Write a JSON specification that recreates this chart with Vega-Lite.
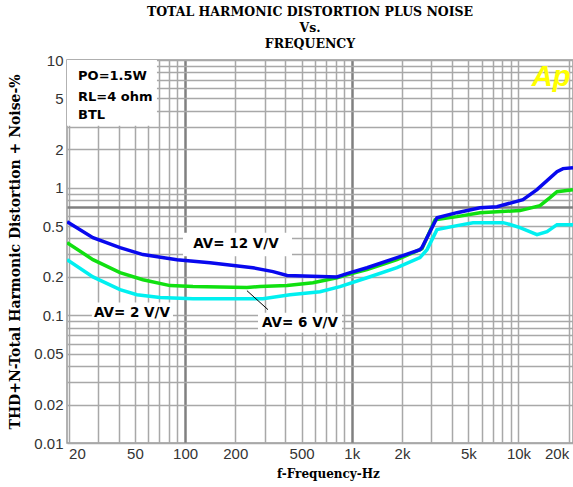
{
  "$schema": "https://vega.github.io/schema/vega-lite/v6.json",
  "width": 506,
  "height": 383,
  "autosize": {"type": "none"},
  "padding": {"left": 67, "top": 60, "right": 0, "bottom": 44},
  "background": "white",
  "config": {"view": {"stroke": "#999999", "strokeWidth": 1.5}},
  "title": {
    "text": ["TOTAL HARMONIC DISTORTION PLUS NOISE", "Vs.", "FREQUENCY"],
    "font": "DejaVu Serif",
    "fontSize": 12.5,
    "fontWeight": "bold",
    "color": "black",
    "anchor": "middle",
    "baseline": "bottom",
    "lineHeight": 16,
    "offset": 9,
    "dx": -10,
    "dy": 19
  },
  "datasets": {
    "curves": [
      {"f": 19.6, "thd": 0.273, "gain": "AV= 2 V/V"},
      {"f": 28, "thd": 0.2, "gain": "AV= 2 V/V"},
      {"f": 40.7, "thd": 0.159, "gain": "AV= 2 V/V"},
      {"f": 51.4, "thd": 0.145, "gain": "AV= 2 V/V"},
      {"f": 70.7, "thd": 0.138, "gain": "AV= 2 V/V"},
      {"f": 111.5, "thd": 0.135, "gain": "AV= 2 V/V"},
      {"f": 293, "thd": 0.135, "gain": "AV= 2 V/V"},
      {"f": 426, "thd": 0.145, "gain": "AV= 2 V/V"},
      {"f": 645, "thd": 0.153, "gain": "AV= 2 V/V"},
      {"f": 850, "thd": 0.168, "gain": "AV= 2 V/V"},
      {"f": 1234, "thd": 0.197, "gain": "AV= 2 V/V"},
      {"f": 1867, "thd": 0.236, "gain": "AV= 2 V/V"},
      {"f": 2565, "thd": 0.283, "gain": "AV= 2 V/V"},
      {"f": 2826, "thd": 0.327, "gain": "AV= 2 V/V"},
      {"f": 3244, "thd": 0.469, "gain": "AV= 2 V/V"},
      {"f": 4277, "thd": 0.504, "gain": "AV= 2 V/V"},
      {"f": 5335, "thd": 0.532, "gain": "AV= 2 V/V"},
      {"f": 8072, "thd": 0.532, "gain": "AV= 2 V/V"},
      {"f": 8531, "thd": 0.523, "gain": "AV= 2 V/V"},
      {"f": 10210, "thd": 0.486, "gain": "AV= 2 V/V"},
      {"f": 12910, "thd": 0.428, "gain": "AV= 2 V/V"},
      {"f": 14830, "thd": 0.452, "gain": "AV= 2 V/V"},
      {"f": 17020, "thd": 0.513, "gain": "AV= 2 V/V"},
      {"f": 21230, "thd": 0.513, "gain": "AV= 2 V/V"},
      {"f": 19.6, "thd": 0.371, "gain": "AV= 6 V/V"},
      {"f": 28, "thd": 0.273, "gain": "AV= 6 V/V"},
      {"f": 40.7, "thd": 0.216, "gain": "AV= 6 V/V"},
      {"f": 55.9, "thd": 0.19, "gain": "AV= 6 V/V"},
      {"f": 81.2, "thd": 0.171, "gain": "AV= 6 V/V"},
      {"f": 111.5, "thd": 0.168, "gain": "AV= 6 V/V"},
      {"f": 235, "thd": 0.165, "gain": "AV= 6 V/V"},
      {"f": 281, "thd": 0.168, "gain": "AV= 6 V/V"},
      {"f": 409, "thd": 0.171, "gain": "AV= 6 V/V"},
      {"f": 585, "thd": 0.18, "gain": "AV= 6 V/V"},
      {"f": 815, "thd": 0.197, "gain": "AV= 6 V/V"},
      {"f": 936, "thd": 0.208, "gain": "AV= 6 V/V"},
      {"f": 1234, "thd": 0.228, "gain": "AV= 6 V/V"},
      {"f": 1867, "thd": 0.273, "gain": "AV= 6 V/V"},
      {"f": 2565, "thd": 0.327, "gain": "AV= 6 V/V"},
      {"f": 2637, "thd": 0.333, "gain": "AV= 6 V/V"},
      {"f": 3156, "thd": 0.56, "gain": "AV= 6 V/V"},
      {"f": 4277, "thd": 0.593, "gain": "AV= 6 V/V"},
      {"f": 5875, "thd": 0.637, "gain": "AV= 6 V/V"},
      {"f": 7430, "thd": 0.649, "gain": "AV= 6 V/V"},
      {"f": 10210, "thd": 0.661, "gain": "AV= 6 V/V"},
      {"f": 13460, "thd": 0.723, "gain": "AV= 6 V/V"},
      {"f": 15450, "thd": 0.835, "gain": "AV= 6 V/V"},
      {"f": 17020, "thd": 0.93, "gain": "AV= 6 V/V"},
      {"f": 21230, "thd": 0.965, "gain": "AV= 6 V/V"},
      {"f": 19.6, "thd": 0.54, "gain": "AV= 12 V/V"},
      {"f": 28, "thd": 0.406, "gain": "AV= 12 V/V"},
      {"f": 40.7, "thd": 0.339, "gain": "AV= 12 V/V"},
      {"f": 55.9, "thd": 0.299, "gain": "AV= 12 V/V"},
      {"f": 89.4, "thd": 0.273, "gain": "AV= 12 V/V"},
      {"f": 141, "thd": 0.258, "gain": "AV= 12 V/V"},
      {"f": 255, "thd": 0.236, "gain": "AV= 12 V/V"},
      {"f": 337, "thd": 0.22, "gain": "AV= 12 V/V"},
      {"f": 409, "thd": 0.205, "gain": "AV= 12 V/V"},
      {"f": 815, "thd": 0.2, "gain": "AV= 12 V/V"},
      {"f": 936, "thd": 0.212, "gain": "AV= 12 V/V"},
      {"f": 1234, "thd": 0.236, "gain": "AV= 12 V/V"},
      {"f": 1867, "thd": 0.283, "gain": "AV= 12 V/V"},
      {"f": 2565, "thd": 0.327, "gain": "AV= 12 V/V"},
      {"f": 2637, "thd": 0.34, "gain": "AV= 12 V/V"},
      {"f": 3244, "thd": 0.582, "gain": "AV= 12 V/V"},
      {"f": 4277, "thd": 0.637, "gain": "AV= 12 V/V"},
      {"f": 5875, "thd": 0.697, "gain": "AV= 12 V/V"},
      {"f": 7430, "thd": 0.71, "gain": "AV= 12 V/V"},
      {"f": 10640, "thd": 0.805, "gain": "AV= 12 V/V"},
      {"f": 12910, "thd": 0.965, "gain": "AV= 12 V/V"},
      {"f": 17020, "thd": 1.335, "gain": "AV= 12 V/V"},
      {"f": 18490, "thd": 1.41, "gain": "AV= 12 V/V"},
      {"f": 21230, "thd": 1.43, "gain": "AV= 12 V/V"}
    ],
    "boxes": [
      {"f1": 19.57, "f2": 67.8, "v1": 3.06, "v2": 10},
      {"f1": 97.1, "f2": 437.8, "v1": 0.29, "v2": 0.444},
      {"f1": 27.6, "f2": 84.6, "v1": 0.091, "v2": 0.126},
      {"f1": 273.7, "f2": 873.5, "v1": 0.0732, "v2": 0.105}
    ],
    "notes": [
      {"f": 22.8, "v": 7.53, "text": "PO=1.5W"},
      {"f": 22.8, "v": 5.16, "text": "RL=4 ohm"},
      {"f": 22.8, "v": 3.73, "text": "BTL"}
    ],
    "avlabels": [
      {"f": 202, "v": 0.364, "text": "AV= 12 V/V"},
      {"f": 48, "v": 0.105, "text": "AV= 2 V/V"},
      {"f": 489, "v": 0.0876, "text": "AV= 6 V/V"}
    ],
    "leader": [
      {"f1": 235, "f2": 314.4, "v1": 0.156, "v2": 0.1107}
    ],
    "logo": [
      {"f": 15670, "v": 7.4, "text": "Ap"}
    ]
  },
  "layer": [
    {
      "data": {"name": "boxes"},
      "mark": {"type": "rect", "color": "white", "stroke": null},
      "encoding": {
        "x": {
          "field": "f1", "type": "quantitative",
          "scale": {"type": "log", "domain": [19.57, 21230], "nice": false, "zero": false},
          "axis": {
            "values": [20,30,40,50,60,70,80,90,100,200,300,400,500,600,700,800,900,1000,2000,3000,4000,5000,6000,7000,8000,9000,10000,20000],
            "labelExpr": "indexof([20,50,100,200,500,1000,2000,5000,10000,20000], datum.value) >= 0 ? (datum.value >= 1000 ? (datum.value/1000) + 'k' : '' + datum.value) : ''",
            "grid": true,
            "gridColor": {"condition": {"test": "datum.value == 100 || datum.value == 1000", "value": "#808080"}, "value": "#a8a8a8"},
            "gridWidth": {"condition": {"test": "datum.value == 100 || datum.value == 1000", "value": 2.5}, "value": 1.5},
            "ticks": false,
            "domain": false,
            "labelFont": "Liberation Sans",
            "labelFontSize": 15,
            "labelColor": "#333333",
            "labelPadding": 3,
            "labelOverlap": false,
            "labelFlush": 10,
            "title": "f-Frequency-Hz",
            "titleFont": "DejaVu Serif",
            "titleFontSize": 12,
            "titleFontWeight": "bold",
            "titleColor": "black",
            "titleX": 261,
            "titleY": 30,
            "titleAlign": "center",
            "titleBaseline": "middle"
          }
        },
        "x2": {"field": "f2"},
        "y": {
          "field": "v1", "type": "quantitative",
          "scale": {"type": "log", "domain": [0.01, 10], "nice": false, "zero": false},
          "axis": {
            "values": [0.01,0.02,0.03,0.04,0.05,0.06,0.07,0.08,0.09,0.1,0.2,0.3,0.4,0.5,0.6,0.7,0.8,0.9,1,2,3,4,5,6,7,8,9,10],
            "labelExpr": "indexof([0.01,0.02,0.05,0.1,0.2,0.5,1,2,5,10], datum.value) >= 0 ? '' + datum.value : ''",
            "grid": true,
            "gridColor": {"condition": {"test": "datum.value == 0.7", "value": "#808080"}, "value": "#a8a8a8"},
            "gridWidth": {"condition": {"test": "datum.value == 0.7", "value": 2.5}, "value": 1.5},
            "ticks": false,
            "domain": false,
            "labelFont": "Liberation Sans",
            "labelFontSize": 15,
            "labelColor": "#333333",
            "labelPadding": 4,
            "labelOverlap": false,
            "labelFlush": false,
            "title": "THD+N-Total Harmonic Distortion + Noise-%",
            "titleFont": "DejaVu Serif",
            "titleFontSize": 14,
            "titleFontWeight": "bold",
            "titleColor": "black",
            "titleX": -52,
            "titleY": 191.5,
            "titleAngle": -90,
            "titleAlign": "center",
            "titleBaseline": "middle"
          }
        },
        "y2": {"field": "v2"}
      }
    },
    {
      "data": {"name": "curves"},
      "mark": {"type": "line", "strokeWidth": 3.5, "clip": true},
      "encoding": {
        "x": {"field": "f", "type": "quantitative"},
        "y": {"field": "thd", "type": "quantitative"},
        "color": {
          "field": "gain", "type": "nominal",
          "scale": {"domain": ["AV= 2 V/V", "AV= 6 V/V", "AV= 12 V/V"], "range": ["#00f0f0", "#10e010", "#0808ee"]},
          "legend": null
        }
      }
    },
    {
      "data": {"name": "leader"},
      "mark": {"type": "rule", "color": "black", "strokeWidth": 1},
      "encoding": {
        "x": {"field": "f1", "type": "quantitative"},
        "x2": {"field": "f2"},
        "y": {"field": "v1", "type": "quantitative"},
        "y2": {"field": "v2"}
      }
    },
    {
      "data": {"name": "notes"},
      "mark": {"type": "text", "align": "left", "baseline": "middle", "font": "DejaVu Sans", "fontWeight": "bold", "fontSize": 13, "color": "black"},
      "encoding": {
        "x": {"field": "f", "type": "quantitative"},
        "y": {"field": "v", "type": "quantitative"},
        "text": {"field": "text"}
      }
    },
    {
      "data": {"name": "avlabels"},
      "mark": {"type": "text", "align": "center", "baseline": "middle", "font": "DejaVu Sans", "fontWeight": "bold", "fontSize": 13.5, "color": "black"},
      "encoding": {
        "x": {"field": "f", "type": "quantitative"},
        "y": {"field": "v", "type": "quantitative"},
        "text": {"field": "text"}
      }
    },
    {
      "data": {"name": "logo"},
      "mark": {"type": "text", "align": "center", "baseline": "middle", "font": "Liberation Sans", "fontWeight": "bold", "fontStyle": "italic", "fontSize": 29, "color": "#ffff00"},
      "encoding": {
        "x": {"field": "f", "type": "quantitative"},
        "y": {"field": "v", "type": "quantitative"},
        "text": {"field": "text"}
      }
    }
  ]
}
